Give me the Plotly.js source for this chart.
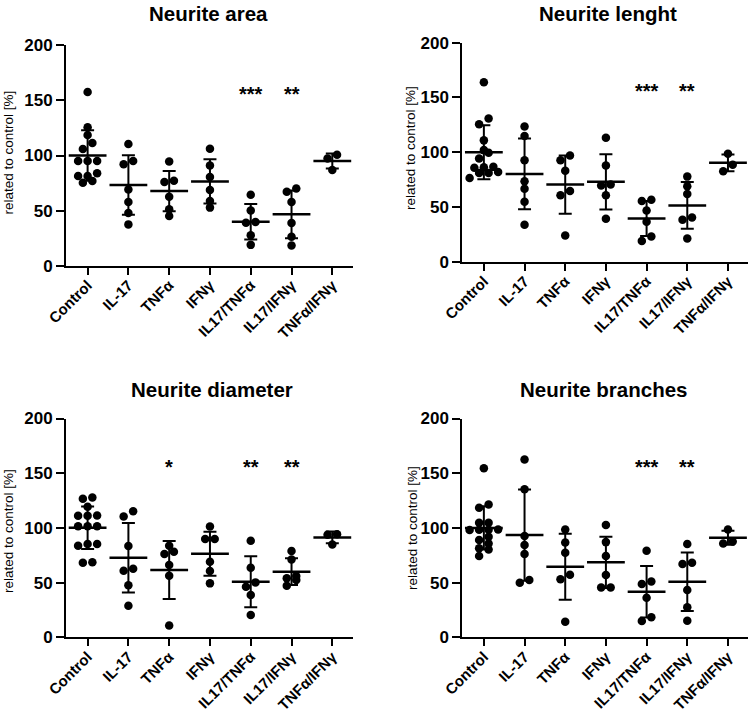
<!DOCTYPE html>
<html>
<head>
<meta charset="utf-8">
<script src="https://cdn.plot.ly/plotly-3.0.1.min.js"></script>
<style>html,body{margin:0;padding:0;background:#fff;}#chart{width:750px;height:716px;}</style>
</head>
<body>
<div id="chart"></div>
<script>
// ---------- DATA ----------
const categories = ['Control', 'IL-17', 'TNFα', 'IFNγ', 'IL17/TNFα', 'IL17/IFNγ', 'TNFα/IFNγ'];
const yTicks = [0, 50, 100, 150, 200];
const yTitle = 'related to control [%]';

// Neurite area
const areaValues = [
  [157.6, 125.6, 118.6, 111.3, 105.8, 95, 95, 95, 83.8, 81.4, 81.4, 76.8, 75.3],
  [110.4, 95.1, 92.1, 69.2, 57.9, 47.9, 37.5],
  [94.5, 77.1, 75.9, 62.5, 51.2, 45.1],
  [106.1, 90.9, 80.5, 68.6, 58.8, 52.7],
  [64.3, 50, 39.6, 39, 27.7, 18.9],
  [70.1, 67.1, 57.9, 38.7, 26.2, 18.3],
  [100.6, 97.3, 86.9]
];
const areaMeans = [100, 73.2, 67.7, 76.5, 39.9, 46.6, 95.1];
const areaSD = [22.9, 27, 18.3, 20, 16.1, 21.6, 6.8];
const areaStars = ['', '', '', '', '***', '**', ''];

// Neurite lenght
const lengthValues = [
  [163.8, 130.7, 125.5, 110.8, 101.9, 99.5, 94.3, 86.6, 86.3, 85.7, 82, 81.1, 81.1, 76.5],
  [123.4, 114.8, 92.7, 73.5, 66.7, 54.8, 33.7],
  [97, 92.7, 83, 64.6, 60.6, 23.9],
  [113.3, 87.8, 70.4, 69.5, 60.6, 39.2],
  [56.6, 55.4, 46.8, 36.4, 23, 19],
  [77.7, 68.9, 61.8, 40.4, 38.3, 21.1],
  [98.6, 88.5, 82.6]
];
const lengthMeans = [100, 80.2, 70.4, 72.9, 39.5, 51.4, 90.3];
const lengthSD = [24.7, 32.2, 26.6, 25.3, 16, 21.3, 7.7];
const lengthStars = ['', '', '', '', '***', '**', ''];

// Neurite diameter
const diameterValues = [
  [127.8, 126.6, 119.3, 111.1, 111.1, 111.4, 101.6, 101.6, 101.6, 85.2, 85.2, 83.7, 68.2, 68.5],
  [115.3, 110.5, 83.4, 62.7, 60.9, 47.5, 28.9],
  [83.7, 78.2, 76.1, 66, 56.3, 10.7],
  [101.3, 89.8, 89.8, 69.1, 60.6, 49.3],
  [88.3, 63.6, 50.2, 46.3, 38.6, 20.4],
  [78.8, 71.2, 56, 53.9, 52.3, 47.2],
  [94.3, 93.7, 84.9]
];
const diameterMeans = [100.1, 72.7, 61.5, 76.4, 50.8, 60, 91.3];
const diameterSD = [19.5, 31.8, 26.6, 20.1, 23.3, 12.3, 5.3];
const diameterStars = ['', '', '*', '', '**', '**', ''];

// Neurite branches
const branchValues = [
  [154.6, 121.4, 118.4, 104.7, 104.7, 98.6, 98.3, 98.3, 98, 91.9, 88.9, 85.8, 81.3, 80.3, 74.3],
  [162.5, 135.4, 92.5, 84.3, 76.1, 52.3, 49.9],
  [98.6, 86.7, 77.3, 57.2, 53, 14.3],
  [102.6, 87, 74.3, 56.9, 45.6, 45.6],
  [79.1, 51.1, 48.7, 36.2, 18.3, 14.9],
  [85.2, 68.2, 67, 43.2, 27.4, 15.2],
  [98.6, 87.6, 85.8]
];
const branchMeans = [100, 93.4, 64.5, 68.5, 41.7, 50.8, 91];
const branchSD = [19.8, 41.7, 30.1, 23.4, 23.5, 26.8, 6.4];
const branchStars = ['', '', '', '', '***', '**', ''];

const panelTitles = ['Neurite area', 'Neurite lenght', 'Neurite diameter', 'Neurite branches'];

// ---------- LAYOUT HELPERS ----------
const W = 750, H = 716;
const FONT = 'Arial, "Liberation Sans", Helvetica, sans-serif';
// pixel boxes [x0, x1, yTop(200), yBottom(0)]
const boxes = [
  [66, 352.7, 45.3, 265.7],
  [462.3, 748.3, 42.7, 261.7],
  [66, 352.7, 418.5, 637.3],
  [462.3, 748.3, 418.5, 637.3]
];
const xRange = [-0.53, 6.5];
const titlePos = [[208.3, 13], [607.5, 13], [211.7, 390], [603, 390]];
const yTitlePos = [[8, 152.5], [410, 148], [8, 531], [412, 528]];

const panels = [
  {vals: areaValues, means: areaMeans, sd: areaSD, stars: areaStars},
  {vals: lengthValues, means: lengthMeans, sd: lengthSD, stars: lengthStars},
  {vals: diameterValues, means: diameterMeans, sd: diameterSD, stars: diameterStars},
  {vals: branchValues, means: branchMeans, sd: branchSD, stars: branchStars}
];

// beeswarm-like horizontal spreading (GraphPad style rows)
function swarmOffsets(vals, pxPerCat) {
  const idx = vals.map((v, i) => i).sort((a, b) => vals[a] - vals[b]);
  const rows = [];
  let cur = null;
  idx.forEach(i => {
    const v = vals[i];
    if (cur && v - cur.last <= 6 && v - cur.start <= 6 && cur.items.length < 4) {
      cur.items.push(i); cur.last = v;
    } else {
      cur = {start: v, last: v, items: [i]}; rows.push(cur);
    }
  });
  const off = new Array(vals.length).fill(0);
  const spacing = 9.5;
  rows.forEach(r => {
    const n = r.items.length;
    r.items.forEach((i, j) => { off[i] = (j - (n - 1) / 2) * spacing / pxPerCat; });
  });
  return off;
}

const traces = [];
const layout = {
  width: W, height: H,
  margin: {l: 0, r: 0, t: 0, b: 0},
  paper_bgcolor: '#fff', plot_bgcolor: '#fff',
  showlegend: false,
  font: {family: FONT, color: '#000'},
  annotations: []
};

panels.forEach((p, k) => {
  const n = k + 1;
  const xa = n === 1 ? 'x' : 'x' + n;
  const ya = n === 1 ? 'y' : 'y' + n;
  const b = boxes[k];
  const pxPerCat = (b[1] - b[0]) / (xRange[1] - xRange[0]);

  const px = [], py = [];
  p.vals.forEach((grp, c) => {
    const off = swarmOffsets(grp, pxPerCat);
    grp.forEach((v, i) => { px.push(c + off[i]); py.push(v); });
  });
  traces.push({
    type: 'scatter', mode: 'markers', x: px, y: py, xaxis: xa, yaxis: ya,
    marker: {size: 8.5, color: '#000'}, hoverinfo: 'skip', cliponaxis: false
  });
  traces.push({
    type: 'scatter', mode: 'markers', x: categories.map((c, i) => i), y: p.means,
    xaxis: xa, yaxis: ya,
    marker: {symbol: 'line-ew', size: 27, color: '#000', line: {color: '#000', width: 2.5}},
    error_y: {type: 'data', array: p.sd, visible: true, color: '#000', thickness: 2, width: 6.5},
    hoverinfo: 'skip', cliponaxis: false
  });
  // stars
  p.stars.forEach((s, i) => {
    if (s) layout.annotations.push({
      xref: xa, yref: ya, x: i, y: 156, text: s, showarrow: false,
      font: {family: FONT, size: 20, color: '#000', weight: 'bold'}, xanchor: 'center', yanchor: 'middle'
    });
  });

  const axName = n === 1 ? '' : String(n);
  layout['xaxis' + axName] = {
    domain: [b[0] / W, b[1] / W], anchor: ya, range: xRange,
    tickmode: 'array', tickvals: categories.map((c, i) => i), ticktext: categories,
    tickangle: -45, tickfont: {family: FONT, size: 15, color: '#000', weight: 'bold'},
    ticklabelstandoff: -4,
    showline: true, linecolor: '#000', linewidth: 2,
    ticks: 'outside', ticklen: 7, tickwidth: 2, tickcolor: '#000',
    showgrid: false, zeroline: false, fixedrange: true
  };
  layout['yaxis' + axName] = {
    domain: [1 - b[3] / H, 1 - b[2] / H], anchor: xa, range: [0, 200],
    tickmode: 'array', tickvals: yTicks,
    tickfont: {family: FONT, size: 17, color: '#000', weight: 'bold'},
    showline: true, linecolor: '#000', linewidth: 2,
    ticks: 'outside', ticklen: 8, tickwidth: 2, tickcolor: '#000',
    showgrid: false, zeroline: false, fixedrange: true
  };

  layout.annotations.push({
    xref: 'paper', yref: 'paper', x: titlePos[k][0] / W, y: 1 - titlePos[k][1] / H,
    text: panelTitles[k], showarrow: false, xanchor: 'center', yanchor: 'middle',
    font: {family: FONT, size: 20.5, color: '#000', weight: 'bold'}
  });
  layout.annotations.push({
    xref: 'paper', yref: 'paper', x: yTitlePos[k][0] / W, y: 1 - yTitlePos[k][1] / H,
    text: yTitle, showarrow: false, textangle: -90, xanchor: 'center', yanchor: 'middle',
    font: {family: FONT, size: 13.5, color: '#000'}
  });
});

Plotly.newPlot('chart', traces, layout, {staticPlot: true, displayModeBar: false});
</script>
</body>
</html>
